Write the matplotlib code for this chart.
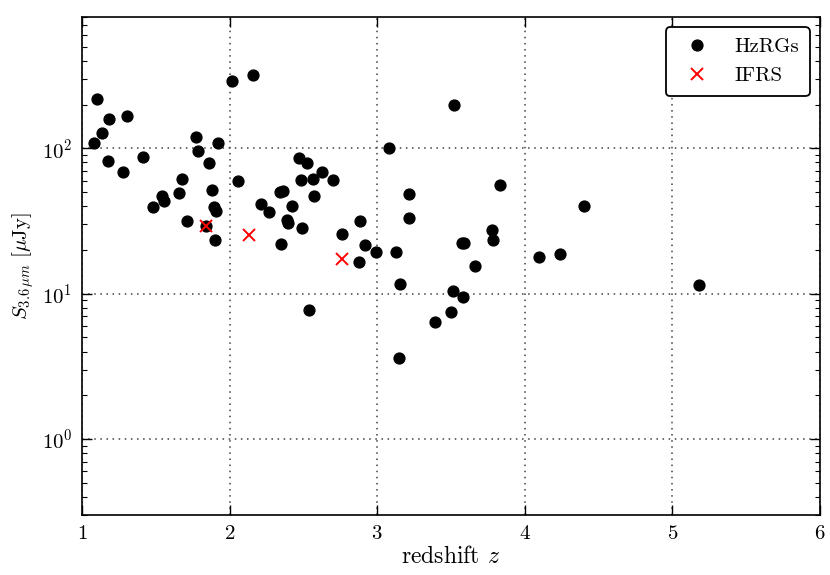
import matplotlib
matplotlib.use('Agg')
import matplotlib.pyplot as plt

plt.rcParams['font.family'] = 'serif'
plt.rcParams['font.serif'] = ['cmr10']
plt.rcParams['mathtext.fontset'] = 'cm'
plt.rcParams['axes.formatter.use_mathtext'] = True
plt.rcParams['font.size'] = 15

# HzRGs: redshift, 3.6 micron flux (uJy)
hzrg_z = [1.102, 1.181, 1.305, 1.136, 1.083, 1.176, 1.276, 1.411, 1.769, 1.784,
          1.920, 1.859, 1.679, 1.884, 1.541, 1.554, 1.656, 1.482, 1.896, 1.911,
          1.713, 1.840, 1.900, 2.016, 2.157, 2.058, 2.216, 2.264, 2.341, 2.364,
          2.425, 2.387, 2.394, 2.488, 2.348, 2.472, 2.526, 2.628, 2.482, 2.567,
          2.703, 2.572, 2.762, 2.540, 3.522, 3.082, 3.212, 3.214, 3.572, 3.585,
          3.125, 2.990, 2.919, 2.885, 2.877, 3.154, 3.832, 3.780, 3.786, 3.663,
          3.511, 3.583, 3.502, 3.390, 3.148, 4.098, 4.238, 4.403, 5.180]
hzrg_s = [220, 160, 166, 127, 108, 81.8, 68.2, 87.2, 120, 96.4,
          108, 79.2, 61.6, 51.8, 47.1, 43.4, 49.5, 39.6, 39.4, 37.1,
          31.5, 29.0, 23.5, 289, 318, 59.6, 41.2, 36.6, 49.7, 51.0,
          40.3, 32.3, 30.6, 28.3, 22.0, 85.4, 78.9, 68.8, 60.7, 61.3,
          60.7, 46.7, 25.6, 7.77, 200, 100, 48.3, 33.3, 22.2, 22.2,
          19.4, 19.2, 21.5, 31.5, 16.5, 11.6, 56.2, 27.4, 23.4, 15.5,
          10.5, 9.49, 7.53, 6.40, 3.63, 17.8, 18.6, 40.1, 11.4]

# IFRS
ifrs_z = [1.840, 2.129, 2.759]
ifrs_s = [29.0, 25.4, 17.4]

fig = plt.figure(figsize=(8.3, 5.75), dpi=100)
ax = fig.add_axes([0.0988, 0.1043, 0.8892, 0.8661])

ax.plot(hzrg_z, hzrg_s, 'o', color='k', markersize=7.8, markeredgecolor='k',
        label='HzRGs', zorder=3)
ax.plot(ifrs_z, ifrs_s, 'x', color='red', markersize=9, markeredgewidth=1.4,
        label='IFRS', zorder=4)

ax.set_yscale('log')
ax.set_xlim(1, 6)
ax.set_ylim(0.3, 800)
ax.set_xticks([1, 2, 3, 4, 5, 6])

ax.set_xlabel(r'redshift $z$', fontsize=17, labelpad=2)
ax.set_ylabel(r'$S_{3.6\,\mu m}\ [\mu\mathrm{Jy}]$', fontsize=15, labelpad=4)

ax.grid(True, which='major', linestyle=(0, (1, 3)), color='0.25', linewidth=1.1)
ax.tick_params(which='both', direction='in', top=True, right=True, labelsize=15)
ax.tick_params(which='major', length=7, width=1, pad=7)
ax.tick_params(which='minor', length=3.5, width=0.8)
for sp in ax.spines.values():
    sp.set_linewidth(1.2)

leg = ax.legend(loc='upper right', numpoints=1, fancybox=True, framealpha=1,
                borderaxespad=0.5, borderpad=0.5, fontsize=15)
leg.get_frame().set_edgecolor('k')
leg.get_frame().set_linewidth(1.3)

fig.savefig('out.png', dpi=100)
